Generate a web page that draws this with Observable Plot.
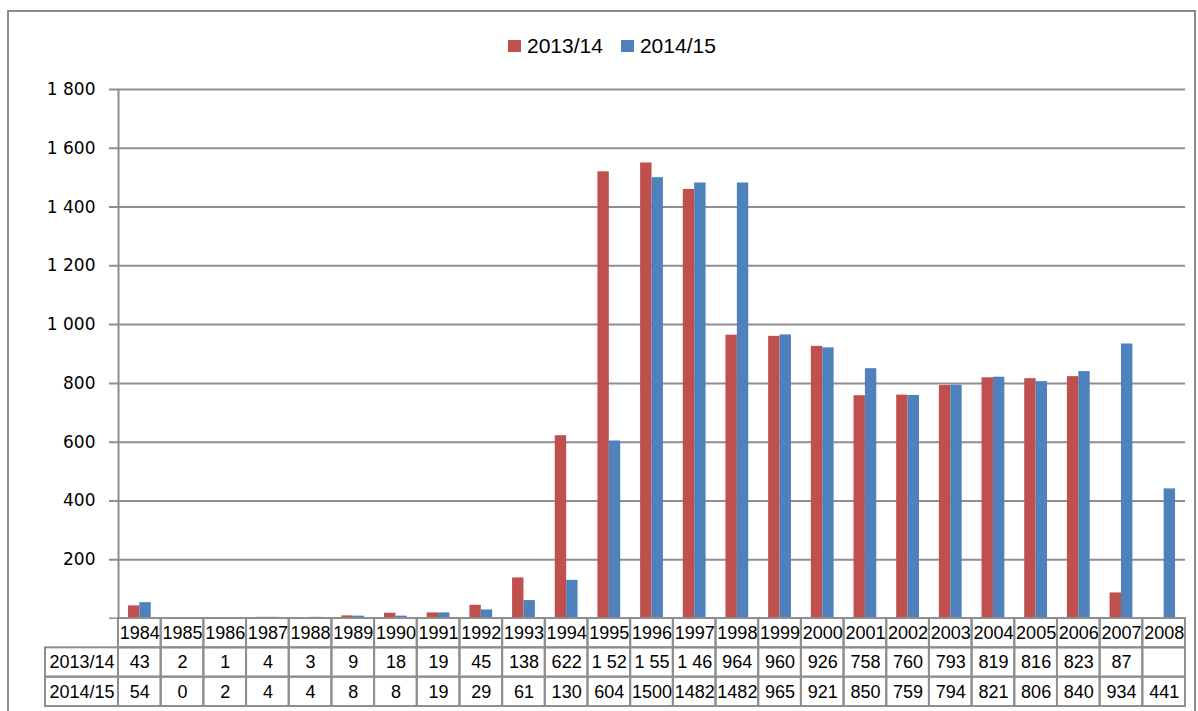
<!DOCTYPE html>
<html><head><meta charset="utf-8">
<script src="https://cdn.jsdelivr.net/npm/d3@7"></script>
<script src="https://cdn.jsdelivr.net/npm/@observablehq/plot@0.6"></script>
<style>
body{margin:0;background:#fff;}
#wrap{position:relative;width:1198px;height:711px;overflow:hidden;background:#fff;}
#frame{position:absolute;left:7px;top:10px;width:1189px;height:760px;border:2px solid #8c8c8c;box-sizing:border-box;}
#legend{position:absolute;left:508px;top:32px;height:28px;display:flex;align-items:center;font-family:"Liberation Sans",Arial,sans-serif;font-size:21px;color:#000;}
#legend .sw{width:13px;height:12px;display:inline-block;margin-right:6px;}
#legend .item{display:flex;align-items:center;margin-right:18px;}
#main{position:absolute;left:0;top:70px;}
#table{position:absolute;left:0;top:617px;}
svg{background:transparent !important;}
</style>
</head><body>
<div id="wrap">
  <div id="frame"></div>
  <div id="legend"></div>
  <div id="main"></div>
  <div id="table"></div>
</div>
<script>
const years = [1984,1985,1986,1987,1988,1989,1990,1991,1992,1993,1994,1995,1996,1997,1998,1999,2000,2001,2002,2003,2004,2005,2006,2007,2008];
const series = ["2013/14","2014/15"];
const colors = ["#C0504D","#4F81BD"];
const v1314 = [43,2,1,4,3,9,18,19,45,138,622,1520,1550,1460,964,960,926,758,760,793,819,816,823,87,null];
const v1415 = [54,0,2,4,4,8,8,19,29,61,130,604,1500,1482,1482,965,921,850,759,794,821,806,840,934,441];
const t1314 = ["43","2","1","4","3","9","18","19","45","138","622","1 52","1 55","1 46","964","960","926","758","760","793","819","816","823","87",""];
const t1415 = ["54","0","2","4","4","8","8","19","29","61","130","604","1500","1482","1482","965","921","850","759","794","821","806","840","934","441"];
const yTicks = [0,200,400,600,800,1000,1200,1400,1600,1800];

const W = 1198, ML = 118, MR = 13;
const bw = (W - ML - MR) / years.length;
const pad = bw * 0.233, bar = (bw - 2 * pad) / 2;
const gridColor = "#8e8e8e";

// legend
const leg = document.getElementById("legend");
series.forEach((s, i) => {
  const it = document.createElement("span");
  it.className = "item";
  it.innerHTML = `<span class="sw" style="background:${colors[i]}"></span><span>${s}</span>`;
  leg.appendChild(it);
});

const data = years.map((y, i) => ({year: y, a: v1314[i], b: v1415[i]}));

const main = Plot.plot({
  width: W, height: 549,
  marginTop: 19, marginBottom: 1, marginLeft: ML, marginRight: MR,
  style: {background: "transparent"},
  x: {type: "band", domain: years, padding: 0, round: false, axis: null},
  y: {domain: [0, 1800]},
  marks: [
    Plot.ruleY(yTicks, {stroke: gridColor, strokeWidth: 2, insetLeft: -9}),
    Plot.barY(data.filter(d => d.a != null), {x: "year", y: "a", fill: colors[0], insetLeft: pad, insetRight: bw - pad - bar}),
    Plot.barY(data, {x: "year", y: "b", fill: colors[1], insetLeft: pad + bar, insetRight: pad}),
    Plot.ruleX([years[0]], {x: d => d, y1: 0, y2: 1800, dx: -bw / 2, stroke: gridColor, strokeWidth: 2}),
    Plot.axisY(yTicks.filter(t => t > 0), {
      tickSize: 0, tickPadding: 23,
      tickFormat: d => d3.format(",")(d).replace(/,/g, " "),
      fontSize: 17, fontFamily: "DejaVu Sans", fill: "#000"
    })
  ]
});
document.getElementById("main").appendChild(main);

// data table
const rows = ["year", series[0], series[1]];
const cells = [];
years.forEach((y, i) => {
  cells.push({year: y, row: "year", t: String(y)});
  cells.push({year: y, row: series[0], t: t1314[i]});
  cells.push({year: y, row: series[1], t: t1415[i]});
});
const table = Plot.plot({
  width: W, height: 93,
  marginTop: 1, marginBottom: 4, marginLeft: ML, marginRight: MR,
  style: {background: "transparent"},
  x: {type: "band", domain: years, padding: 0, round: false, axis: null},
  y: {type: "band", domain: rows, padding: 0, round: false, axis: null},
  marks: [
    Plot.cell(cells, {x: "year", y: "row", fill: "none", stroke: gridColor, strokeWidth: 2}),
    Plot.cell(series, {x: () => years[0], y: d => d, fill: "none", stroke: gridColor, strokeWidth: 2, insetLeft: -73, insetRight: bw}),
    Plot.text(cells, {x: "year", y: "row", text: "t", fontSize: 18, fontFamily: "Liberation Sans", fill: "#000"}),
    Plot.text(series, {x: () => years[0], y: d => d, text: d => d, dx: -bw / 2 - 36.5, fontSize: 18, fontFamily: "Liberation Sans", fill: "#000"})
  ]
});
document.getElementById("table").appendChild(table);
</script>
</body></html>
